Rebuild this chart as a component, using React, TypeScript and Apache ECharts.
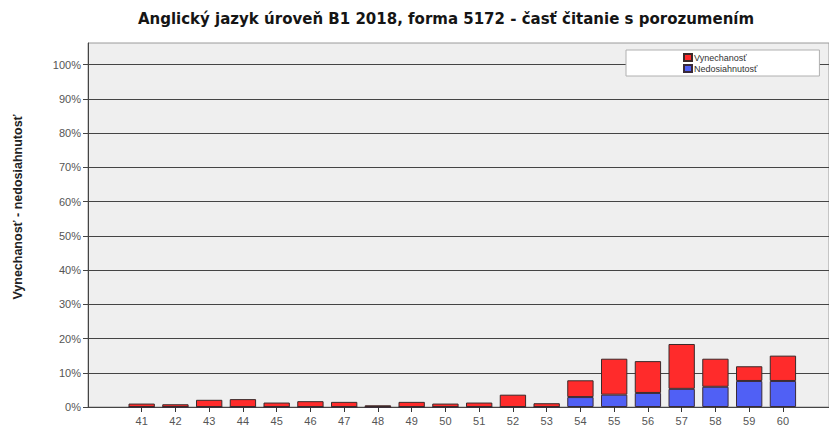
import React, { useEffect, useRef } from "react";
import * as echarts from "echarts";

const categories = ["41","42","43","44","45","46","47","48","49","50","51","52","53","54","55","56","57","58","59","60"];
// percent values
const nedosiahnutost = [0,0,0,0,0,0,0,0,0,0,0,0,0,2.9,3.6,4.1,5.3,5.9,7.6,7.6];
const vynechanost = [1.0,0.8,2.1,2.3,1.3,1.7,1.5,0.5,1.5,1.0,1.3,3.6,1.1,4.9,10.5,9.3,13.1,8.2,4.3,7.4];
const titleText = "Anglický jazyk úroveň B1 2018, forma 5172 - časť čitanie s porozumením";
const yName = "Vynechanosť - nedosiahnutosť";

const FONT = "'Liberation Sans', Arial, sans-serif";

export default function App() {
  const ref = useRef<HTMLDivElement>(null);
  useEffect(() => {
    if (!ref.current) return;
    const chart = echarts.init(ref.current, undefined, { renderer: "svg" });
    const plotTop = 43;
    const plotBottom = 23;
    const yMax = 106.3;
    chart.setOption({
      animation: false,
      backgroundColor: "#ffffff",
      textStyle: { fontFamily: FONT },
      title: {
        text: titleText,
        left: 441,
        textAlign: "center",
        top: 6,
        textStyle: { fontSize: 15, fontWeight: "bold", color: "#151515", fontFamily: "'DejaVu Sans', sans-serif" },
      },
      graphic: [
        {
          type: "text",
          x: 18,
          y: 207,
          rotation: Math.PI / 2,
          style: {
            text: yName,
            fontSize: 12.5,
            fontWeight: "bold",
            fill: "#222",
            fontFamily: FONT,
            align: "center",
            verticalAlign: "middle",
          },
        },
      ],
      legend: {
        left: 626,
        top: 50,
        orient: "vertical",
        data: ["Vynechanosť", "Nedosiahnutosť"],
        backgroundColor: "#ffffff",
        borderColor: "#b0b0b0",
        borderWidth: 1,
        borderRadius: 0,
        padding: [3, 62, 3, 57],
        itemWidth: 8,
        itemHeight: 7,
        itemGap: 2,
        icon: "rect",
        textStyle: { fontSize: 9, color: "#333", padding: [0, 0, 0, -3] },
      },
      grid: [
        {
          left: 88, right: 0, top: plotTop, bottom: plotBottom,
          show: true, backgroundColor: "#efefef", borderColor: "#9a9a9a", borderWidth: 1,
        },
        { left: 124.8, width: 675, top: plotTop, bottom: plotBottom },
      ],
      xAxis: [
        { type: "category", gridIndex: 0, data: categories, show: false },
        {
          type: "category", gridIndex: 1, data: categories,
          axisLine: { show: false },
          axisTick: { show: true, alignWithLabel: true, length: 5, lineStyle: { color: "#333" } },
          axisLabel: { fontSize: 11, color: "#555", margin: 8, fontFamily: FONT },
        },
      ],
      yAxis: [
        {
          type: "value", gridIndex: 0, min: 0, max: yMax, interval: 10,
          axisLine: { show: true, lineStyle: { color: "#444", width: 1 } },
          axisTick: { show: true, length: 5, lineStyle: { color: "#444" } },
          axisLabel: {
            fontSize: 11, color: "#555", margin: 7, fontFamily: FONT, showMaxLabel: false,
            formatter: (v: number) => (Math.abs(v % 10) < 1e-6 ? v + "%" : ""),
          },
          splitLine: { show: true, showMaxLine: false, lineStyle: { color: "#444", width: 1 } },
        },
        { type: "value", gridIndex: 1, min: 0, max: yMax, show: false, splitLine: { show: false } },
      ],
      series: [
        {
          name: "Nedosiahnutosť", type: "bar", stack: "s", xAxisIndex: 1, yAxisIndex: 1,
          data: nedosiahnutost, barWidth: "78%",
          itemStyle: { color: "#5060f5", borderColor: "#3a2a3a", borderWidth: 1 },
        },
        {
          name: "Vynechanosť", type: "bar", stack: "s", xAxisIndex: 1, yAxisIndex: 1,
          data: vynechanost, barWidth: "78%",
          itemStyle: { color: "#ff2b2b", borderColor: "#3a2a2a", borderWidth: 1 },
        },
      ],
    });
    return () => chart.dispose();
  }, []);
  return (
    <div
      ref={ref}
      style={{ width: 829, height: 430, position: "fixed", left: 0, top: 0 }}
    />
  );
}
